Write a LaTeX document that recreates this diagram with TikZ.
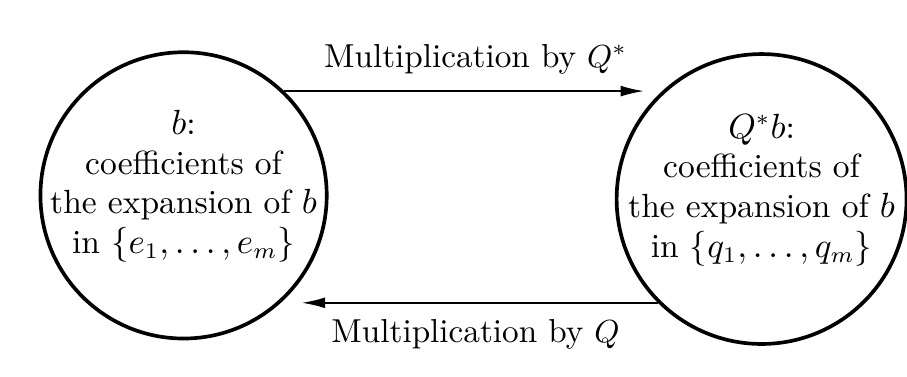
\documentclass[tikz,border=0pt]{standalone}
\usepackage{amsmath, amssymb}
\usetikzlibrary{positioning, arrows.meta}

\begin{document}
\begin{tikzpicture}
		\useasboundingbox (0,0) rectangle (9.98,4.14);
		% 左右两个圆：左边是 b，右边是 Q^*b
		\node (eb) [circle, draw, line width=1.15pt, minimum size=3.15cm, inner sep=0pt] at (2.02,1.99) {};
		\node (qb) [circle, draw, line width=1.15pt, minimum size=3.19cm, inner sep=0pt] at (8.38,1.95) {};
		
		% 圆内文字（略微上移）
		\node (ebt) [align=center, font=\fontsize{10.5pt}{12.4pt}\selectfont] at ([yshift=0.1cm]eb.center)
			{$b$:\\coefficients of\\the expansion of $b$\\in $\{e_1,\ldots,e_m\}$};
		\node (qbt) [align=center, font=\fontsize{10.5pt}{12.4pt}\selectfont] at ([yshift=0.1cm]qb.center)
			{$Q^*b$:\\coefficients of\\the expansion of $b$\\in $\{q_1,\ldots,q_m\}$};
		
		% 上面的箭头：左 -> 右
		\draw[-{Latex[length=2.6mm,width=1.2mm]}, line width=0.6pt, shorten >=0.17cm] (eb.46) -- (eb.46 -| qb.134)
			node (mqs) [midway, above=0.06cm, xshift=0.04cm, font=\fontsize{10.4pt}{12pt}\selectfont] {Multiplication by $Q^*$};
		
		% 下面的箭头：右 -> 左
		\draw[-{Latex[length=2.6mm,width=1.2mm]}, line width=0.6pt, shorten >=0.19cm] (qb.225) -- (qb.225 -| eb.314)
			node (mq) [midway, below=0.06cm, xshift=0.05cm, font=\fontsize{10.4pt}{12pt}\selectfont] {Multiplication by $Q$};
	\end{tikzpicture}
\end{document}
